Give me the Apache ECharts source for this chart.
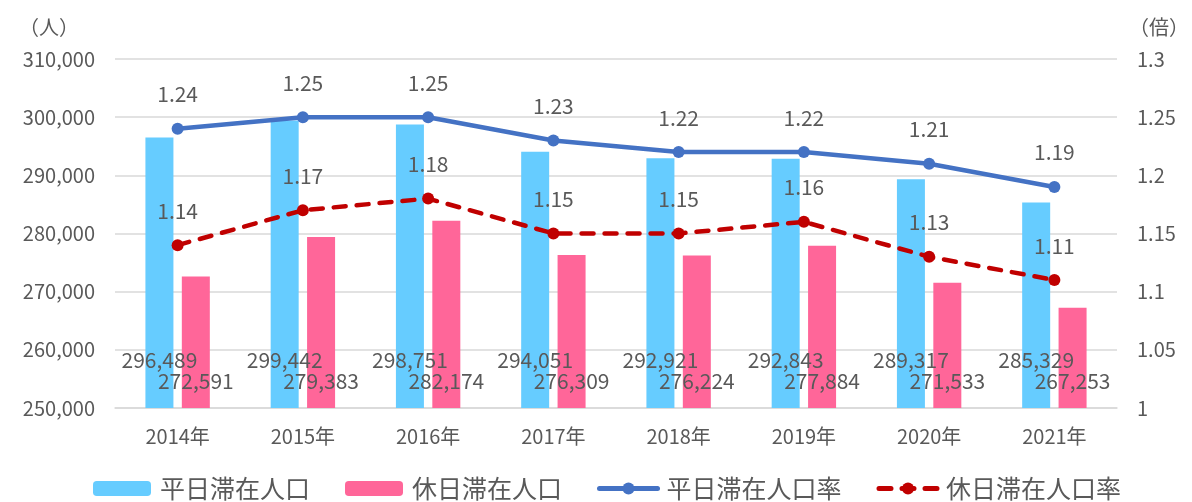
<!DOCTYPE html>
<html>
<head>
<meta charset="utf-8">
<script src="https://cdn.jsdelivr.net/npm/echarts@6/dist/echarts.min.js"></script>
<style>
  html, body { margin: 0; padding: 0; background: #fff; }
  #chart { width: 1192px; height: 502px; }
</style>
</head>
<body>
<div id="chart"></div>
<script>
const years = ['2014年', '2015年', '2016年', '2017年', '2018年', '2019年', '2020年', '2021年']
const weekdayPop = [296489, 299442, 298751, 294051, 292921, 292843, 289317, 285329]
const holidayPop = [272591, 279383, 282174, 276309, 276224, 277884, 271533, 267253]
const weekdayRate = [1.24, 1.25, 1.25, 1.23, 1.22, 1.22, 1.21, 1.19]
const holidayRate = [1.14, 1.17, 1.18, 1.15, 1.15, 1.16, 1.13, 1.11]

const FONT = '"Noto Sans CJK JP", "Noto Sans", sans-serif'
const TEXT = '#595959'

const chart = echarts.init(document.getElementById('chart'))

const fmt = v => v.toLocaleString('en-US')

chart.setOption({
	animation: false,
	textStyle: { fontFamily: FONT, color: TEXT },
	grid: { left: 115, right: 69, top: 59, bottom: 94 },
	legend: {
		top: 476,
		left: 93,
		padding: 0,
		itemWidth: 58,
		itemHeight: 15,
		itemGap: 35,
		textStyle: { fontSize: 25, color: TEXT, fontFamily: FONT, padding: [0, 0, 0, 4] },
		data: [
			'平日滞在人口',
			'休日滞在人口',
			{ name: '平日滞在人口率', lineStyle: { width: 5 } },
			{ name: '休日滞在人口率', lineStyle: { width: 5 } },
		],
	},
	xAxis: {
		type: 'category',
		data: years,
		axisLine: { lineStyle: { color: '#d9d9d9', width: 1.5 } },
		axisTick: { show: false },
		axisLabel: { fontSize: 20, color: TEXT, margin: 18 },
	},
	yAxis: [
		{
			type: 'value',
			name: '（人）',
			nameLocation: 'end',
			nameGap: 22,
			nameTextStyle: { fontSize: 20, color: TEXT, align: 'right', padding: [0, 36, 0, 0] },
			min: 250000,
			max: 310000,
			interval: 10000,
			axisLabel: { fontSize: 20, color: TEXT, margin: 20, formatter: v => fmt(v) },
			splitLine: { lineStyle: { color: '#d9d9d9', width: 1.5 } },
		},
		{
			type: 'value',
			name: '（倍）',
			nameLocation: 'end',
			nameGap: 22,
			nameTextStyle: { fontSize: 20, color: TEXT, align: 'left', padding: [0, 0, 0, 12] },
			min: 1,
			max: 1.3,
			interval: 0.05,
			axisLabel: { fontSize: 20, color: TEXT, margin: 20 },
			splitLine: { show: false },
		},
	],
	series: [
		{
			name: '平日滞在人口',
			type: 'bar',
			data: weekdayPop,
			barWidth: 28,
			barGap: '30%',
			itemStyle: { color: '#66CCFF' },
			label: {
				show: true,
				position: 'insideBottom',
				distance: 37,
				fontSize: 21,
				color: TEXT,
				formatter: p => fmt(p.value),
			},
		},
		{
			name: '休日滞在人口',
			type: 'bar',
			data: holidayPop,
			barWidth: 28,
			itemStyle: { color: '#FF6699' },
			label: {
				show: true,
				position: 'insideBottom',
				distance: 16,
				fontSize: 21,
				color: TEXT,
				formatter: p => fmt(p.value),
			},
		},
		{
			name: '平日滞在人口率',
			type: 'line',
			yAxisIndex: 1,
			data: weekdayRate,
			symbol: 'circle',
			symbolSize: 12,
			itemStyle: { color: '#4472C4' },
			lineStyle: { color: '#4472C4', width: 4.5, cap: 'round' },
			label: { show: true, position: 'top', distance: 18, fontSize: 21, color: TEXT },
			z: 5,
		},
		{
			name: '休日滞在人口率',
			type: 'line',
			yAxisIndex: 1,
			data: holidayRate,
			symbol: 'circle',
			symbolSize: 12,
			itemStyle: { color: '#C00000' },
			lineStyle: { color: '#C00000', width: 4.5, type: [12, 11], cap: 'round' },
			label: { show: true, position: 'top', distance: 18, fontSize: 21, color: TEXT },
			z: 5,
		},
	],
})
</script>
</body>
</html>
